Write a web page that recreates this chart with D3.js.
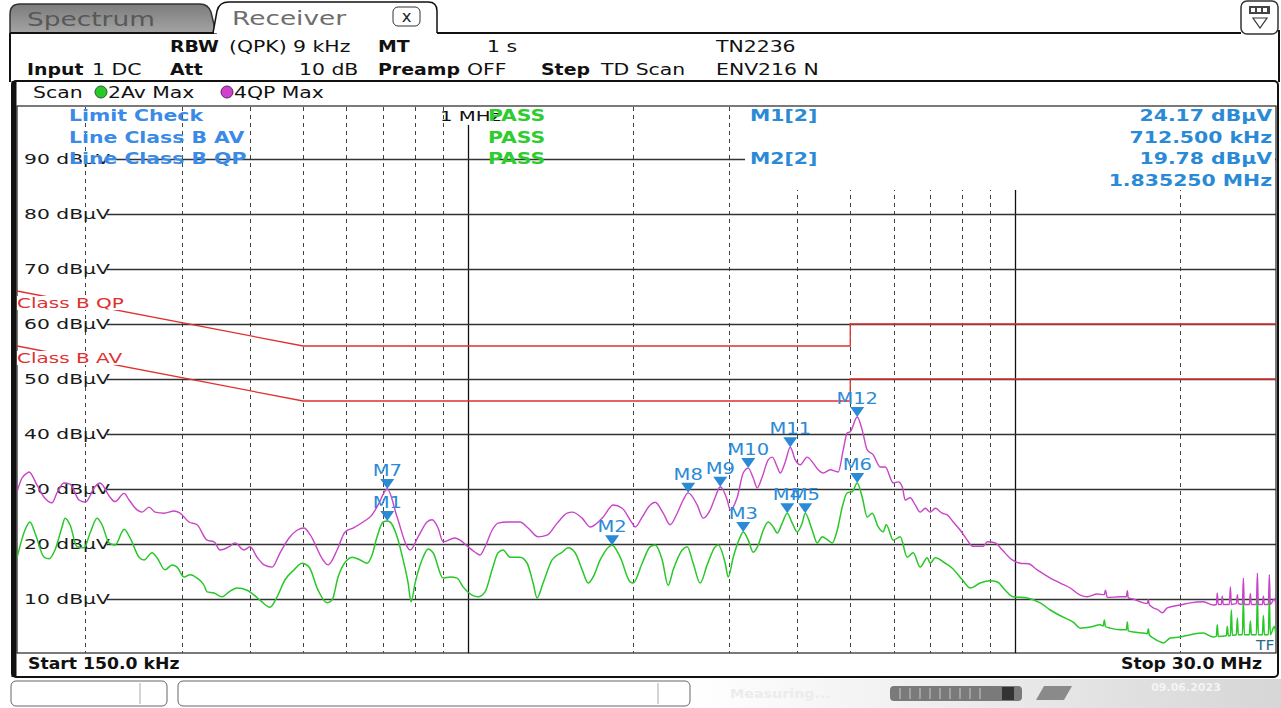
<!DOCTYPE html>
<html>
<head>
<meta charset="utf-8">
<script src="https://cdn.jsdelivr.net/npm/d3@7"></script>
<style>
  body { margin: 0; background: #fff; }
  text { font-family: "DejaVu Sans", Verdana, sans-serif; }
</style>
</head>
<body>
<svg id="chart" width="1281" height="708"></svg>
<script>
// grid definition (MHz / dBuV)
var freqGrid = [0.2, 0.3, 0.4, 0.5, 0.6, 0.7, 0.8, 0.9, 2, 3, 4, 5, 6, 7, 8, 9, 20];
var freqMajor = [1, 10];
var levelTicks = [10, 20, 30, 40, 50, 60, 70, 80, 90];

// limit lines EN 55032 class B
var classBQP = [[0.15, 66], [0.5, 56], [5, 56], [5, 60], [30, 60]];
var classBAV = [[0.15, 56], [0.5, 46], [5, 46], [5, 50], [30, 50]];

// trace 4: QP max hold [MHz, dBuV]
var qpMax = [[0.150,29.5],[0.1532,32.0],[0.1565,32.9],[0.1578,33.1],[0.1632,30.7],[0.1681,28.5],[0.1738,27.5],[0.1775,29.3],[0.1828,31.1],[0.1875,30.9],[0.1947,28.0],[0.2000,27.6],[0.2083,30.4],[0.2127,31.1],[0.2219,28.5],[0.2266,27.7],[0.2354,29.2],[0.2404,28.0],[0.2486,26.2],[0.2539,25.8],[0.2615,26.7],[0.2682,25.8],[0.2785,25.6],[0.2905,26.0],[0.2979,25.6],[0.3094,24.0],[0.3200,23.5],[0.3338,20.7],[0.3438,20.4],[0.3525,18.9],[0.3662,19.5],[0.3755,20.2],[0.3900,18.9],[0.4000,19.5],[0.4120,17.6],[0.4243,16.2],[0.4388,15.8],[0.4538,18.4],[0.4713,21.1],[0.4875,22.5],[0.5020,22.9],[0.5149,21.7],[0.5438,17.1],[0.5554,16.2],[0.5769,18.9],[0.5966,22.2],[0.6170,22.9],[0.6436,24.0],[0.6684,25.3],[0.6856,27.1],[0.7125,30.0],[0.7427,24.9],[0.7746,19.5],[0.7845,18.9],[0.8113,21.3],[0.8425,24.0],[0.8605,24.4],[0.8825,22.9],[0.9012,20.4],[0.9478,21.1],[0.9680,20.7],[1.0011,19.5],[1.0311,18.5],[1.0529,18.0],[1.0754,19.5],[1.1076,22.5],[1.1358,23.8],[1.1798,24.0],[1.2462,24.0],[1.2890,22.9],[1.3443,21.3],[1.3961,21.6],[1.4565,23.8],[1.5191,25.6],[1.5513,25.8],[1.6181,24.7],[1.6734,23.1],[1.7679,24.9],[1.8440,27.1],[1.9148,26.5],[1.9970,23.8],[2.0225,23.1],[2.0831,24.9],[2.1543,27.1],[2.2004,27.6],[2.2757,25.6],[2.3436,23.5],[2.4140,25.6],[2.4756,28.0],[2.5281,29.3],[2.6255,27.1],[2.6928,24.7],[2.7735,26.2],[2.8329,28.5],[2.8929,30.4],[2.9796,28.0],[3.0174,26.2],[3.1077,28.5],[3.1868,32.9],[3.2549,33.8],[3.3240,32.0],[3.3804,30.2],[3.4523,32.2],[3.5403,35.3],[3.6009,35.8],[3.6776,34.0],[3.7244,32.9],[3.8036,34.9],[3.8846,37.6],[3.9672,35.3],[4.0509,34.4],[4.1720,35.8],[4.2788,34.7],[4.3695,33.5],[4.4625,32.9],[4.5960,33.5],[4.7535,33.1],[4.8546,37.1],[4.9370,40.2],[5.0000,40.4],[5.1491,43.1],[5.2587,40.7],[5.3706,37.1],[5.5080,36.2],[5.6727,34.0],[5.7936,34.0],[5.9919,31.1],[6.1191,31.3],[6.2229,30.4],[6.3018,28.0],[6.4356,28.4],[6.5723,27.1],[6.7119,25.8],[6.8564,26.5],[7.0020,25.8],[7.1507,26.5],[7.3644,25.6],[7.5213,25.3],[7.7133,24.0],[7.9451,22.5],[8.1825,20.7],[8.3564,19.6],[8.7527,19.6],[8.9012,20.4],[9.2058,20.2],[9.4805,18.9],[9.8876,17.1],[10.226,16.5],[10.577,16.4],[10.984,15.3],[11.603,13.8],[12.101,12.9],[12.621,12.0],[13.165,10.7],[13.559,10.4],[14.142,10.9],[14.57,10.8],[14.63,11.6],[14.75,10.3],[15.580,10.4],[15.98,10.4],[16.05,11.5],[16.11,10.2],[16.455,10.0],[17.163,9.3],[17.46,9.2],[17.53,9.9],[17.60,9.0],[17.828,8.5],[18.282,8.0],[18.592,7.5],[18.987,8.4],[20.05,8.9],[20.913,9.3],[22.090,9.5],[23.041,8.9],[23.34,9.0],[23.43,11.1],[23.53,9.0],[23.83,9.0],[23.93,10.5],[24.03,9.0],[24.65,9.0],[24.76,12.2],[24.86,9.0],[25.39,9.2],[25.50,10.8],[25.60,9.2],[26.04,9.0],[26.15,13.8],[26.26,9.0],[26.82,9.0],[26.93,11.0],[27.04,9.0],[27.62,9.0],[27.74,14.7],[27.85,9.0],[28.33,9.0],[28.45,10.5],[28.57,9.0],[29.05,9.0],[29.17,14.4],[29.29,9.0],[29.79,10.0],[30.0,9.0]];

// trace 2: AV max hold [MHz, dBuV]
var avMax = [[0.150,17.5],[0.1551,22.5],[0.1584,24.0],[0.1618,22.0],[0.1681,17.6],[0.1716,17.3],[0.1760,18.9],[0.1813,23.1],[0.1836,24.7],[0.1875,23.5],[0.1931,19.5],[0.1989,19.3],[0.2040,22.0],[0.2101,24.7],[0.2145,23.5],[0.2210,20.2],[0.2266,19.8],[0.2334,22.2],[0.2354,22.7],[0.2414,21.1],[0.2507,17.6],[0.2560,17.1],[0.2648,18.4],[0.2704,17.5],[0.2797,15.3],[0.2880,16.2],[0.2942,15.8],[0.3030,14.0],[0.3107,14.4],[0.3200,13.8],[0.3296,12.5],[0.3338,11.3],[0.3438,11.1],[0.3555,10.4],[0.3662,11.3],[0.3787,12.0],[0.3950,11.6],[0.4068,10.7],[0.4171,9.8],[0.4351,8.5],[0.4481,10.4],[0.4634,13.5],[0.4813,15.3],[0.4978,16.5],[0.5127,15.8],[0.5325,11.6],[0.5530,9.3],[0.5648,9.8],[0.5793,14.0],[0.6017,17.1],[0.6144,17.6],[0.6355,17.1],[0.6546,16.5],[0.6684,18.0],[0.6826,21.3],[0.7002,24.0],[0.7125,24.17],[0.7211,24.0],[0.7427,21.3],[0.7617,17.1],[0.7779,12.9],[0.7877,9.5],[0.8011,12.9],[0.8285,17.6],[0.8461,19.1],[0.8641,18.4],[0.9012,13.8],[0.9281,14.0],[0.9558,13.8],[0.9804,12.2],[1.0181,10.7],[1.0442,10.4],[1.0754,11.3],[1.1076,15.3],[1.1358,18.4],[1.1601,18.9],[1.1948,17.6],[1.2462,17.6],[1.2836,16.5],[1.3163,12.9],[1.3386,10.2],[1.3728,12.9],[1.4260,17.1],[1.4875,18.5],[1.5254,19.3],[1.5711,18.4],[1.6181,15.3],[1.6596,12.9],[1.6947,14.0],[1.7456,17.1],[1.8353,19.78],[1.8990,17.6],[1.9805,13.1],[2.0055,12.9],[2.0831,16.5],[2.1543,19.5],[2.2004,19.8],[2.2662,17.1],[2.3240,12.5],[2.3736,15.3],[2.4650,18.9],[2.5176,19.5],[2.5817,16.5],[2.6589,12.9],[2.7384,16.2],[2.8329,19.5],[2.8686,19.8],[2.9544,16.5],[2.9921,14.0],[3.0558,17.6],[3.1473,21.3],[3.1868,22.2],[3.2549,20.7],[3.3240,18.5],[3.3948,19.8],[3.4668,22.5],[3.5403,24.0],[3.6161,23.1],[3.6776,22.0],[3.7557,23.8],[3.8357,25.6],[3.9173,23.8],[4.0004,22.2],[4.0851,23.8],[4.1370,25.6],[4.2608,22.5],[4.3512,20.2],[4.4438,21.3],[4.539,20.8],[4.6347,20.2],[4.7336,22.5],[4.8342,26.7],[4.9370,29.3],[5.0421,29.5],[5.1491,31.1],[5.2587,28.5],[5.3706,24.9],[5.4849,25.6],[5.6252,23.1],[5.7450,22.2],[5.8181,23.5],[5.9919,20.7],[6.1707,21.3],[6.3550,17.6],[6.5172,18.4],[6.7119,15.8],[6.9144,17.5],[7.0020,16.5],[7.1507,17.5],[7.4583,16.5],[7.6811,15.6],[8.0123,13.5],[8.2865,12.0],[8.6427,12.9],[9.0143,13.3],[9.2834,13.1],[9.6012,11.6],[9.9293,10.4],[10.533,10.2],[11.124,9.3],[11.603,8.0],[12.252,6.7],[12.782,5.8],[13.165,4.7],[13.731,4.9],[14.322,5.3],[14.50,5.1],[14.57,6.2],[14.63,5.0],[14.937,4.7],[15.580,4.4],[15.98,4.4],[16.05,5.8],[16.11,4.2],[16.455,4.0],[17.163,3.8],[17.46,3.7],[17.53,4.6],[17.60,3.5],[17.903,2.9],[18.437,2.2],[18.67,2.0],[19.229,2.9],[20.05,3.1],[20.913,3.5],[22.090,3.8],[23.041,3.1],[23.34,3.2],[23.43,5.3],[23.53,3.2],[24.34,3.3],[24.44,5.0],[24.55,3.3],[24.76,3.4],[24.86,8.0],[24.97,3.4],[25.39,3.5],[25.50,6.5],[25.60,3.5],[26.04,3.5],[26.15,9.8],[26.26,3.5],[26.82,3.5],[26.93,6.0],[27.04,3.5],[27.62,3.5],[27.74,10.4],[27.85,3.5],[28.33,3.5],[28.45,7.0],[28.57,3.5],[29.05,3.5],[29.17,10.2],[29.29,3.5],[29.79,5.0],[30.0,3.5]];

// markers
var markerNames = ["M1", "M2", "M3", "M4", "M5", "M6", "M7", "M8", "M9", "M10", "M11", "M12"];
var markerFreq  = [0.7125, 1.83525, 3.187, 3.836, 4.137, 5.149, 0.7125, 2.528, 2.893, 3.255, 3.885, 5.149];
var markerLevel = [24.17, 19.78, 22.2, 25.6, 25.6, 31.1, 30.0, 29.3, 30.4, 33.8, 37.6, 43.1];

var limitRows = ["Limit Check", "Line Class B AV", "Line Class B QP"];
var markerInfo = [["M1[2]", "24.17 dB\u03bcV"], ["", "712.500 kHz"], ["M2[2]", "19.78 dB\u03bcV"], ["", "1.835250 MHz"]];

var SX = 1.36; // screen is stretched horizontally
var BLUE = "#2a8ad6", QP_COL = "#c844c8", AV_COL = "#28c828", LIM_COL = "#e03030";

var svg = d3.select("#chart");
var x = d3.scaleLog().domain([0.15, 30]).range([17, 1276]);
var y = d3.scaleLinear().domain([0, 100]).range([654, 104]);

function txt(g, px, py, s, o) {
  o = o || {};
  return g.append("text")
    .attr("transform", "translate(" + px + "," + py + ") scale(" + (o.sx || SX) + ",1)")
    .attr("text-anchor", o.anchor || "start")
    .style("font-size", (o.size || 15) + "px")
    .style("font-weight", o.bold ? "bold" : "normal")
    .style("fill", o.color || "#111")
    .text(s);
}

var defs = svg.append("defs");
var tabGrad = defs.append("linearGradient").attr("id", "tabGrad").attr("x1", 0).attr("y1", 0).attr("x2", 0).attr("y2", 1);
tabGrad.append("stop").attr("offset", "0%").attr("stop-color", "#7c7c7c");
tabGrad.append("stop").attr("offset", "100%").attr("stop-color", "#a4a4a4");
var barGrad = defs.append("linearGradient").attr("id", "barGrad").attr("x1", 0).attr("y1", 0).attr("x2", 1).attr("y2", 0);
barGrad.append("stop").attr("offset", "0%").attr("stop-color", "#ffffff");
barGrad.append("stop").attr("offset", "100%").attr("stop-color", "#d6d6d6");
defs.append("clipPath").attr("id", "plotClip").append("rect")
  .attr("x", 17).attr("y", 106).attr("width", 1259).attr("height", 547);

// ---- tabs and header
var tabs = svg.append("g");
tabs.append("path").attr("d", "M10,33 L10,14 Q10,4 20,4 L200,4 Q208,4 211,12 L216,33 Z")
  .attr("fill", "url(#tabGrad)").attr("stroke", "#333").attr("stroke-width", 1.5);
tabs.append("path").attr("d", "M213,33 L217,11 Q219,2 229,2 L428,2 Q437,2 437,11 L437,33")
  .attr("fill", "#fff").attr("stroke", "#111").attr("stroke-width", 1.5);
tabs.append("line").attr("x1", 10).attr("x2", 214).attr("y1", 33).attr("y2", 33).attr("stroke", "#111").attr("stroke-width", 2);
tabs.append("line").attr("x1", 437).attr("x2", 1241).attr("y1", 33).attr("y2", 33).attr("stroke", "#111").attr("stroke-width", 2);
tabs.append("line").attr("x1", 10).attr("x2", 10).attr("y1", 33).attr("y2", 82).attr("stroke", "#111").attr("stroke-width", 2);
tabs.append("line").attr("x1", 1279).attr("x2", 1279).attr("y1", 30).attr("y2", 82).attr("stroke", "#111").attr("stroke-width", 2);
txt(tabs, 27, 26, "Spectrum", {size: 20, color: "#585858", sx: 1.32});
txt(tabs, 232, 25, "Receiver", {size: 20, color: "#6e6e6e", sx: 1.32});
tabs.append("rect").attr("x", 393).attr("y", 7).attr("width", 27).attr("height", 19).attr("rx", 5)
  .attr("fill", "#fff").attr("stroke", "#333");
txt(tabs, 406.5, 22, "x", {size: 15, anchor: "middle", color: "#222", sx: 1.1});
tabs.append("rect").attr("x", 1241).attr("y", 1).attr("width", 37).attr("height", 33).attr("rx", 6)
  .attr("fill", "#fff").attr("stroke", "#333").attr("stroke-width", 1.5);
tabs.append("rect").attr("x", 1249).attr("y", 6).attr("width", 21).attr("height", 8).attr("fill", "#444");
[1251, 1257, 1263].forEach(function (bx) {
  tabs.append("rect").attr("x", bx).attr("y", 8).attr("width", 4).attr("height", 4).attr("fill", "#fff");
});
tabs.append("path").attr("d", "M1253,18 L1267,18 L1260,28 Z").attr("fill", "none").attr("stroke", "#333").attr("stroke-width", 1.2);

var head = svg.append("g");
var hb = {bold: true, sx: 1.26};
txt(head, 170, 52, "RBW", hb);
txt(head, 229, 52, "(QPK) 9 kHz");
txt(head, 378, 52, "MT", hb);
txt(head, 487, 52, "1 s");
txt(head, 716, 52, "TN2236");
txt(head, 27, 75, "Input", hb);
txt(head, 92, 75, "1 DC");
txt(head, 170, 75, "Att", hb);
txt(head, 299, 75, "10 dB");
txt(head, 378, 75, "Preamp", hb);
txt(head, 467, 75, "OFF");
txt(head, 541, 75, "Step", hb);
txt(head, 601, 75, "TD Scan");
txt(head, 716, 75, "ENV216 N");

// ---- plot frame
var frame = svg.append("g");
frame.append("rect").attr("x", 12).attr("y", 81).attr("width", 1266).attr("height", 596).attr("rx", 4)
  .attr("fill", "#fff").attr("stroke", "#111").attr("stroke-width", 2);
frame.append("line").attr("x1", 14).attr("x2", 14).attr("y1", 81).attr("y2", 677).attr("stroke", "#111").attr("stroke-width", 5);
frame.append("rect").attr("x", 17).attr("y", 106).attr("width", 1259).attr("height", 547)
  .attr("fill", "none").attr("stroke", "#222").attr("stroke-width", 1.2);
txt(frame, 33, 98, "Scan");
frame.append("circle").attr("cx", 101).attr("cy", 92).attr("r", 6).attr("fill", AV_COL).attr("stroke", "#2a5a2a");
txt(frame, 108, 98, "2Av Max");
frame.append("circle").attr("cx", 227).attr("cy", 92).attr("r", 6).attr("fill", "#d040d0").attr("stroke", "#5a2a5a");
txt(frame, 234, 98, "4QP Max");
txt(frame, 28, 669, "Start 150.0 kHz", {bold: true, sx: 1.15});
txt(frame, 1262, 669, "Stop 30.0 MHz", {bold: true, sx: 1.15, anchor: "end"});

// ---- grid
var grid = svg.append("g");
grid.selectAll("line.vminor").data(freqGrid).enter().append("line")
  .attr("x1", function (d) { return Math.round(x(d)) + 0.5; })
  .attr("x2", function (d) { return Math.round(x(d)) + 0.5; })
  .attr("y1", 107).attr("y2", 653)
  .attr("stroke", "#444").attr("stroke-dasharray", "4,4");
grid.selectAll("line.vmajor").data(freqMajor).enter().append("line")
  .attr("x1", function (d) { return Math.round(x(d)) + 0.5; })
  .attr("x2", function (d) { return Math.round(x(d)) + 0.5; })
  .attr("y1", 125).attr("y2", 653)
  .attr("stroke", "#111").attr("stroke-width", 1.3);
grid.selectAll("line.h").data(levelTicks).enter().append("line")
  .attr("x1", 107).attr("x2", 1276)
  .attr("y1", function (d) { return Math.round(y(d)) + 0.5; })
  .attr("y2", function (d) { return Math.round(y(d)) + 0.5; })
  .attr("stroke", "#333").attr("stroke-width", 1.3);
levelTicks.forEach(function (d) {
  txt(grid, 24, y(d) + 5, d + " dB\u03bcV", {size: 14.5, color: "#1a1a1a", sx: 1.4});
});
// marker info box covers the grid
grid.append("rect").attr("x", 745).attr("y", 107).attr("width", 530).attr("height", 83).attr("fill", "#fff");

// ---- limit lines
var lim = svg.append("g").attr("clip-path", "url(#plotClip)");
var limLine = d3.line().x(function (d) { return x(d[0]); }).y(function (d) { return y(d[1]); });
[classBQP, classBAV].forEach(function (l) {
  lim.append("path").attr("d", limLine(l)).attr("fill", "none").attr("stroke", LIM_COL).attr("stroke-width", 1.3);
});
[["Class B QP", classBQP], ["Class B AV", classBAV]].forEach(function (p) {
  var ly = y(p[1][0][1]) + 17;
  lim.append("rect").attr("x", 17).attr("y", ly - 12).attr("width", 104).attr("height", 14).attr("fill", "#fff");
  txt(lim, 17, ly, p[0], {size: 14.5, color: LIM_COL, sx: 1.38});
});

// ---- traces
var traces = svg.append("g").attr("clip-path", "url(#plotClip)");
var line = d3.line().curve(d3.curveMonotoneX)
  .x(function (d) { return x(d[0]); }).y(function (d) { return y(d[1]); });
traces.append("path").attr("d", line(avMax)).attr("fill", "none").attr("stroke", AV_COL).attr("stroke-width", 1.5);
traces.append("path").attr("d", line(qpMax)).attr("fill", "none").attr("stroke", QP_COL).attr("stroke-width", 1.4);

// ---- markers
var mk = svg.append("g");
markerNames.forEach(function (name, i) {
  var mx = x(markerFreq[i]), my = y(markerLevel[i]);
  mk.append("path").attr("d", "M" + (mx - 7) + "," + (my - 10) + " L" + (mx + 7) + "," + (my - 10) + " L" + mx + "," + my + " Z")
    .attr("fill", BLUE);
  txt(mk, mx, my - 13, name, {anchor: "middle", color: BLUE, size: 15, sx: 1.3});
});
txt(mk, 1256, 650, "TF", {color: "#2a6a8a", size: 14, sx: 1.1});

// ---- overlay texts
var ov = svg.append("g");
txt(ov, 440, 121, "1 MHz", {size: 14.5});
limitRows.forEach(function (s, i) {
  var by = [121, 143, 164][i];
  txt(ov, 69, by, s, {bold: true, color: "#3a8ae6"});
  txt(ov, 488, by, "PASS", {bold: true, color: "#2ecc2e"});
});
markerInfo.forEach(function (r, i) {
  var by = [121, 143, 164, 186][i];
  if (r[0]) txt(ov, 750, by, r[0], {bold: true, color: BLUE});
  txt(ov, 1272, by, r[1], {bold: true, color: BLUE, anchor: "end"});
});

// ---- status bar
var sb = svg.append("g");
sb.append("rect").attr("x", 11).attr("y", 681).attr("width", 156).attr("height", 25).attr("rx", 5)
  .attr("fill", "#fff").attr("stroke", "#666");
sb.append("line").attr("x1", 140).attr("x2", 140).attr("y1", 683).attr("y2", 704).attr("stroke", "#aaa");
sb.append("rect").attr("x", 178).attr("y", 681).attr("width", 512).attr("height", 25).attr("rx", 5)
  .attr("fill", "#fff").attr("stroke", "#666");
sb.append("line").attr("x1", 658).attr("x2", 658).attr("y1", 683).attr("y2", 704).attr("stroke", "#aaa");
sb.append("rect").attr("x", 692).attr("y", 679).attr("width", 589).attr("height", 29).attr("fill", "url(#barGrad)");
txt(sb, 730, 698, "Measuring...", {size: 13, bold: true, color: "#ececec", sx: 1.1});
sb.append("rect").attr("x", 890).attr("y", 686).attr("width", 132).attr("height", 15).attr("rx", 4).attr("fill", "#7a7a7a");
d3.range(9).forEach(function (k) {
  sb.append("line").attr("x1", 900 + k * 10).attr("x2", 900 + k * 10).attr("y1", 688).attr("y2", 699).attr("stroke", "#c8c8c8");
});
sb.append("rect").attr("x", 1002).attr("y", 687).attr("width", 12).attr("height", 13).attr("fill", "#333");
sb.append("path").attr("d", "M1036,700 L1044,686 L1072,686 L1064,700 Z").attr("fill", "#8a8a8a");
txt(sb, 1186, 691, "09.06.2023", {size: 11, bold: true, color: "#f4f4f4", anchor: "middle", sx: 1});
</script>
</body>
</html>
